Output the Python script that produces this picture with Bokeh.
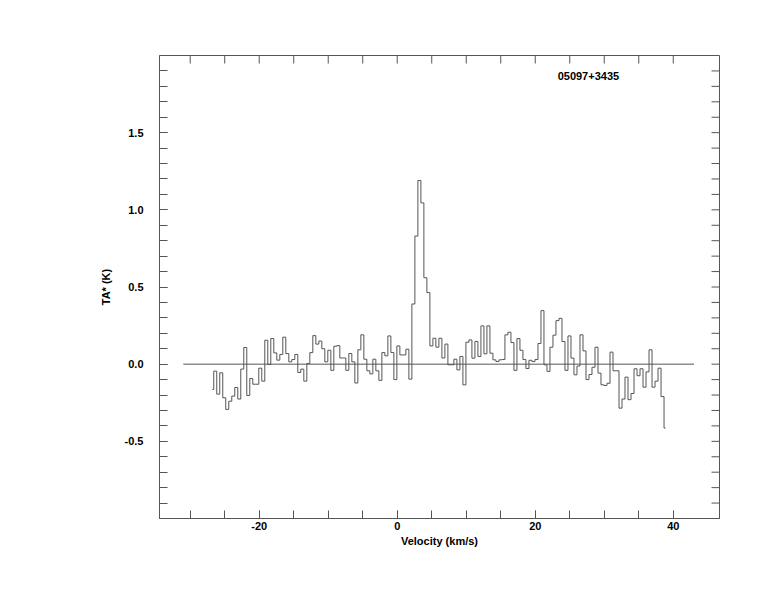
import numpy as np
from bokeh.plotting import figure
from bokeh.models import FixedTicker, Range1d, Label
from bokeh.embed import file_html
from bokeh.resources import INLINE

# ---------------- data ----------------
source_name = "05097+3435"
x_title = "Velocity (km/s)"
y_title = "TA* (K)"

v_start = -26.805   # centre of first channel (km/s)
v_step = 0.435      # channel width (km/s)

ta = [
    -0.164, -0.045, -0.194, -0.056, -0.218, -0.293, -0.240, -0.207, -0.151, -0.226,
    -0.032, 0.108, -0.203, -0.093, -0.130, -0.130, -0.026, -0.110, 0.155, -0.002,
    0.166, 0.073, 0.026, 0.063, 0.175, 0.069, 0.015, 0.030, 0.063, -0.054,
    -0.032, -0.110, 0.004, 0.075, 0.185, 0.130, 0.150, 0.100, 0.015, 0.090,
    -0.040, 0.116, 0.120, 0.040, 0.040, -0.040, 0.069, 0.015, -0.122, 0.093,
    0.190, 0.032, -0.043, -0.063, 0.032, -0.043, -0.105, 0.075, 0.054, 0.183,
    0.075, -0.100, 0.118, 0.060, 0.060, 0.097, -0.097, 0.390, 0.830, 1.190,
    1.045, 0.560, 0.464, 0.118, 0.168, 0.110, 0.168, 0.040, 0.130, -0.004,
    -0.004, 0.032, -0.037, 0.050, -0.134, 0.142, 0.157, 0.039, 0.147, 0.050,
    0.248, 0.067, 0.248, 0.071, 0.028, 0.017, 0.028, 0.030, 0.190, 0.207,
    0.140, -0.040, 0.166, 0.090, 0.030, -0.028, 0.025, 0.017, 0.030, 0.134,
    0.347, -0.004, -0.047, 0.110, 0.188, 0.282, 0.297, 0.147, -0.040, 0.183,
    0.039, -0.069, -0.012, 0.190, 0.086, -0.100, -0.067, -0.020, 0.110, -0.058,
    -0.134, -0.138, -0.124, 0.078, -0.043, -0.043, -0.285, -0.226, -0.084, -0.230,
    -0.190, -0.030, -0.075, -0.030, -0.149, -0.050, 0.093, -0.149, -0.110, -0.026,
    -0.210, -0.414,
]

baseline_v = [-31.0, 43.0]
baseline_t = [0.0, 0.0]

x_major = [-20, 0, 20, 40]
x_major_labels = ["-20", "0", "20", "40"]
x_minor = [-30, -25, -20, -15, -10, -5, 0, 5, 10, 15, 20, 25, 30, 35, 40]
y_major = [-0.5, 0.0, 0.5, 1.0, 1.5]
y_major_labels = ["-0.5", "0.0", "0.5", "1.0", "1.5"]
y_minor = [-0.9, -0.8, -0.7, -0.6, -0.5, -0.4, -0.3, -0.2, -0.1, 0.0,
           0.1, 0.2, 0.3, 0.4, 0.5, 0.6, 0.7, 0.8, 0.9, 1.0,
           1.1, 1.2, 1.3, 1.4, 1.5, 1.6, 1.7, 1.8, 1.9]

label_pos = (27.7, 1.87)

# ---------------- style ----------------
FONT = "Liberation Sans"
LINE = "#555555"
TICK_PX = 8

X0, X1 = -34.45, 46.7
Y0, Y1 = -1.0, 2.0
FRAME_W, FRAME_H = 560, 463

velocity = v_start + v_step * np.arange(len(ta))

p = figure(width=766, height=604,
           x_range=Range1d(X0, X1), y_range=Range1d(Y0, Y1),
           output_backend="svg", toolbar_location=None,
           x_axis_label=x_title, y_axis_label=y_title,
           min_border_left=159, min_border_right=47,
           min_border_top=55, min_border_bottom=86)
p.background_fill_color = "white"
p.border_fill_color = "white"
p.outline_line_color = LINE
p.outline_line_width = 1
p.xgrid.grid_line_color = None
p.ygrid.grid_line_color = None

p.step(velocity, ta, mode="center", line_color=LINE, line_width=1)
p.line(baseline_v, baseline_t, line_color=LINE, line_width=1)

# tick marks on the top and right edges of the frame (no labels there)
dy = TICK_PX * (Y1 - Y0) / FRAME_H
dx = TICK_PX * (X1 - X0) / FRAME_W
p.segment(x0=x_minor, y0=[Y1] * len(x_minor), x1=x_minor, y1=[Y1 - dy] * len(x_minor),
          line_color=LINE, line_width=1)
p.segment(x0=[X1] * len(y_minor), y0=y_minor, x1=[X1 - dx] * len(y_minor), y1=y_minor,
          line_color=LINE, line_width=1)

xt = FixedTicker(ticks=x_major, minor_ticks=x_minor)
yt = FixedTicker(ticks=y_major, minor_ticks=y_minor)

def style(ax, ticker):
    ax.ticker = ticker
    ax.axis_line_color = LINE
    ax.major_tick_line_color = LINE
    ax.minor_tick_line_color = LINE
    ax.major_tick_in = TICK_PX
    ax.major_tick_out = 0
    ax.minor_tick_in = TICK_PX
    ax.minor_tick_out = 0
    ax.major_label_text_font = FONT
    ax.major_label_text_font_style = "bold"
    ax.major_label_text_font_size = "11px"
    ax.major_label_text_color = "black"
    ax.axis_label_text_font = FONT
    ax.axis_label_text_font_style = "bold"
    ax.axis_label_text_font_size = "11px"
    ax.axis_label_text_color = "black"

for ax in p.below:
    style(ax, xt)
    ax.major_label_standoff = 3
    ax.axis_label_standoff = 2
    ax.major_label_overrides = dict(zip(x_major, x_major_labels))
for ax in p.left:
    style(ax, yt)
    ax.major_label_standoff = 16
    ax.axis_label_standoff = 10
    ax.major_label_overrides = dict(zip(y_major, y_major_labels))

p.add_layout(Label(x=label_pos[0], y=label_pos[1], text=source_name,
                   text_font=FONT, text_font_style="bold", text_font_size="11px",
                   text_align="center", text_baseline="middle", text_color="black"))

open("out.html", "w").write(file_html(p, INLINE))
